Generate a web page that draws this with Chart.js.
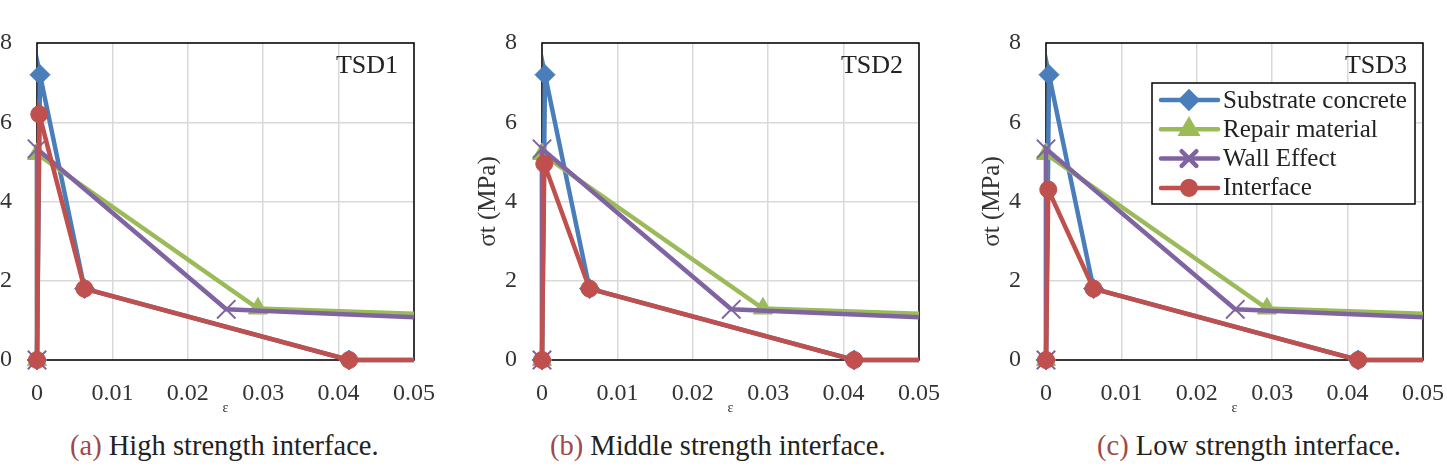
<!DOCTYPE html>
<html>
<head>
<meta charset="utf-8">
<script src="https://cdn.jsdelivr.net/npm/chart.js@4.4.1/dist/chart.umd.min.js"></script>
<style>
  html, body { margin: 0; padding: 0; background: #fff; }
  body { width: 1447px; height: 474px; position: relative; overflow: hidden; }
  canvas { position: absolute; top: 0; }
  .caption {
    position: absolute; top: 430px; white-space: nowrap;
    font-family: "Liberation Serif", "Times New Roman", serif;
    font-size: 28.5px; color: #222;
  }
  .caption span { color: #9e4a48; }
</style>
</head>
<body>
<canvas id="chartA"></canvas>
<canvas id="chartB"></canvas>
<canvas id="chartC"></canvas>
<div class="caption" style="left:70px"><span>(a)</span> High strength interface.</div>
<div class="caption" style="left:550px"><span>(b)</span> Middle strength interface.</div>
<div class="caption" style="left:1097px"><span>(c)</span> Low strength interface.</div>

<script>
// ----- data (strain ε, stress σt in MPa) -----
const strainSubstrate = [0, 0.0004, 0.0063, 0.0414, 0.05];
const stressSubstrate = [0, 7.2, 1.8, 0, 0];

const strainRepair = [0, 0, 0.0293, 0.05];
const stressRepair = [0, 5.2, 1.3, 1.17];

const strainWall = [0, 0, 0.0251, 0.05];
const stressWall = [0, 5.33, 1.28, 1.08];

const strainInterface = [0, 0.0003, 0.0063, 0.0414, 0.05];
const stressInterfaceA = [0, 6.2, 1.8, 0, 0];
const stressInterfaceB = [0, 4.95, 1.8, 0, 0];
const stressInterfaceC = [0, 4.3, 1.8, 0, 0];

const seriesNames = ["Substrate concrete", "Repair material", "Wall Effect", "Interface"];
const panelTitles = ["TSD1", "TSD2", "TSD3"];
const xTicks = [0, 0.01, 0.02, 0.03, 0.04, 0.05];
const yTicks = [0, 2, 4, 6, 8];

const FONT = '"Liberation Serif", "Times New Roman", serif';
const X_MAX = xTicks[xTicks.length - 1];

// plot-area left edges on the page
const plotLefts = [37, 542, 1046];
const plotWidth = 377;
const AXIS_W = 70;
const RIGHT_PAD = 31;
const WIDTH_FIX = 9;   // chart.js layout eats a few px on the right
const PLOT_TOP = 43;
const PLOT_BOTTOM = 360;
const CANVAS_H = 420;

const zip = (xs, ys) => xs.map((x, i) => ({ x, y: ys[i] }));

const styles = [
  { color: "#4a7ebb", pointStyle: "rectRot", radius: 10 },
  { color: "#9bbb59", pointStyle: "triangle", radius: 11 },
  { color: "#8064a2", pointStyle: "crossRot", radius: 13 },
  { color: "#c0504d", pointStyle: "circle", radius: 8.5 },
];

function makeDataset(i, xs, ys) {
  const s = styles[i];
  return {
    label: seriesNames[i],
    data: zip(xs, ys),
    showLine: true,
    borderColor: s.color,
    backgroundColor: s.color,
    borderWidth: 4.5,
    pointStyle: s.pointStyle,
    pointRadius: (ctx) => (ctx.raw && ctx.raw.x >= X_MAX ? 0 : s.radius),
    pointBorderWidth: s.pointStyle === "crossRot" ? 2 : 1,
    pointBorderColor: s.color,
    pointBackgroundColor: s.color,
    order: 4 - i,
    clip: false,
  };
}

// box, panel label and (optionally) legend
const framePlugin = {
  id: "frame",
  beforeDatasetsDraw(chart) {
    const { ctx, chartArea: a } = chart;
    ctx.save();
    ctx.strokeStyle = "#000";
    ctx.lineWidth = 1.5;
    ctx.strokeRect(a.left, a.top, a.right - a.left, a.bottom - a.top);
    ctx.restore();
  },
  afterDatasetsDraw(chart, args, opts) {
    const { ctx, chartArea: a } = chart;
    ctx.save();
    ctx.fillStyle = "#222";
    ctx.font = "26px " + FONT;
    ctx.textAlign = "right";
    ctx.textBaseline = "middle";
    ctx.fillText(opts.title, a.right - 16, a.top + 23);

    if (opts.legend) {
      const lx = a.right - 271, ly = a.top + 40, lw = 263, lh = 121;
      ctx.fillStyle = "#fff";
      ctx.fillRect(lx, ly, lw, lh);
      ctx.strokeStyle = "#000";
      ctx.lineWidth = 1.5;
      ctx.strokeRect(lx, ly, lw, lh);
      chart.data.datasets.forEach((ds, i) => {
        const y = ly + 17 + i * 29.3;
        ctx.strokeStyle = ds.borderColor;
        ctx.lineWidth = 4.5;
        ctx.lineCap = "round";
        ctx.beginPath();
        ctx.moveTo(lx + 9, y);
        ctx.lineTo(lx + 66, y);
        ctx.stroke();
        ctx.fillStyle = ds.borderColor;
        Chart.helpers.drawPoint(ctx, {
          pointStyle: styles[i].pointStyle,
          radius: styles[i].radius * 0.8,
          borderWidth: styles[i].pointStyle === "crossRot" ? 2 : 1,
        }, lx + 37, y);
        ctx.fillStyle = "#222";
        ctx.font = "25px " + FONT;
        ctx.textAlign = "left";
        ctx.fillText(ds.label, lx + 71, y + 1);
      });
    }
    ctx.restore();
  },
};

function makeChart(id, idx, interfaceStress) {
  const canvas = document.getElementById(id);
  canvas.style.left = (plotLefts[idx] - AXIS_W) + "px";
  canvas.width = AXIS_W + plotWidth + RIGHT_PAD + WIDTH_FIX;
  canvas.height = CANVAS_H;

  new Chart(canvas, {
    type: "scatter",
    data: {
      datasets: [
        makeDataset(0, strainSubstrate, stressSubstrate),
        makeDataset(1, strainRepair, stressRepair),
        makeDataset(2, strainWall, stressWall),
        makeDataset(3, strainInterface, interfaceStress),
      ],
    },
    options: {
      responsive: false,
      animation: false,
      devicePixelRatio: 1,
      layout: { padding: { top: PLOT_TOP, right: RIGHT_PAD, left: 0, bottom: 0 } },
      plugins: {
        legend: { display: false },
        tooltip: { enabled: false },
        frame: { title: panelTitles[idx], legend: idx === 2 },
      },
      scales: {
        x: {
          type: "linear",
          min: xTicks[0],
          max: X_MAX,
          afterBuildTicks: (scale) => { scale.ticks = xTicks.map((v) => ({ value: v })); },
          afterFit: (scale) => { scale.height = CANVAS_H - PLOT_BOTTOM; },
          grid: { color: "#d9d9d9", lineWidth: 1.5, drawTicks: false },
          border: { display: false },
          ticks: {
            padding: 19,
            color: "#333",
            font: { family: FONT, size: 24 },
            maxRotation: 0,
            callback: (v) => String(Number(v.toFixed(2))),
          },
          title: {
            display: true,
            text: "ε",
            color: "#333",
            font: { family: FONT, size: 14 },
            padding: { top: 0, bottom: 3 },
          },
        },
        y: {
          min: yTicks[0],
          max: yTicks[yTicks.length - 1],
          afterBuildTicks: (scale) => { scale.ticks = yTicks.map((v) => ({ value: v })); },
          afterFit: (scale) => { scale.width = AXIS_W; },
          grid: { color: "#d9d9d9", lineWidth: 1.5, drawTicks: false },
          border: { display: false },
          ticks: {
            padding: 25,
            color: "#333",
            font: { family: FONT, size: 24 },
          },
          title: {
            display: true,
            text: "σt (MPa)",
            color: "#333",
            font: { family: FONT, size: 25 },
            padding: { top: 1, bottom: 0 },
          },
        },
      },
    },
    plugins: [framePlugin],
  });
}

makeChart("chartA", 0, stressInterfaceA);
makeChart("chartB", 1, stressInterfaceB);
makeChart("chartC", 2, stressInterfaceC);
</script>
</body>
</html>
